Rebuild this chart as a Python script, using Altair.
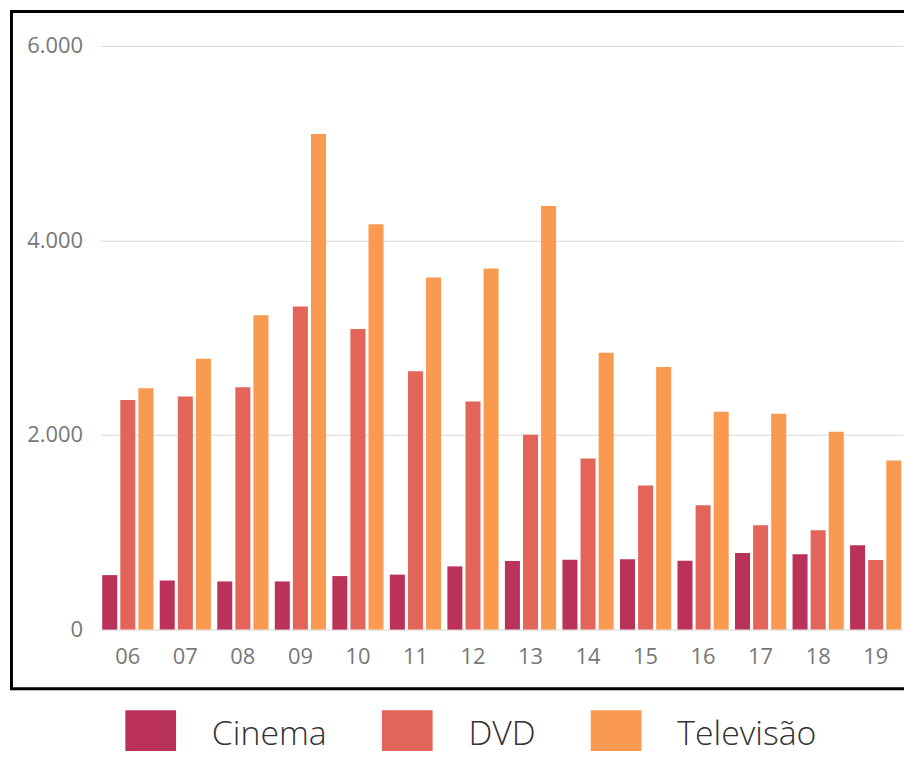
import altair as alt
import pandas as pd

years = ["06", "07", "08", "09", "10", "11", "12", "13", "14", "15", "16", "17", "18", "19"]
series = ["Cinema", "DVD", "Televisão"]
cinema = [560, 505, 495, 495, 550, 565, 650, 705, 718, 722, 708, 787, 774, 868]
dvd = [2360, 2395, 2490, 3320, 3090, 2655, 2345, 2003, 1758, 1482, 1278, 1073, 1022, 715]
tv = [2480, 2783, 3230, 5095, 4167, 3618, 3712, 4354, 2845, 2698, 2238, 2218, 2034, 1738]
colors = ["#BA3159", "#E3655A", "#F99A50"]

rows = []
for name, vals in zip(series, [cinema, dvd, tv]):
    for yr, v in zip(years, vals):
        rows.append({"ano": yr, "serie": name, "valor": v})
df = pd.DataFrame(rows)

W, H = 807, 587

bars = alt.Chart(df).mark_bar().encode(
    x=alt.X("ano:N", sort=years,
            scale=alt.Scale(paddingInner=0.11, paddingOuter=0.03),
            axis=alt.Axis(title=None, labelAngle=0, ticks=False, domain=False,
                          labelFontSize=22, labelColor="#777777", labelPadding=17,
                          labelFont="Open Sans", grid=False)),
    xOffset=alt.XOffset("serie:N", sort=series,
                        scale=alt.Scale(paddingInner=0.17, paddingOuter=0)),
    y=alt.Y("valor:Q", scale=alt.Scale(domain=[0, 6000], nice=False),
            axis=alt.Axis(title=None, values=[0, 2000, 4000, 6000], ticks=False,
                          domain=False, labelFontSize=22, labelColor="#777777",
                          labelFont="Open Sans", labelPadding=18,
                          labelExpr="replace(format(datum.value, ','), ',', '.')",
                          gridColor="#d8d8d8", gridWidth=1)),
    color=alt.Color("serie:N", sort=series,
                    scale=alt.Scale(domain=series, range=colors),
                    legend=alt.Legend(title=None, orient="none", direction="horizontal",
                                      legendX=25, legendY=668,
                                      symbolType="square", symbolSize=2600,
                                      symbolStrokeWidth=0, symbolOpacity=1,
                                      labelFontSize=34, labelFont="Open Sans",
                                      labelFontWeight=300, labelColor="#333333",
                                      labelOffset=36, columnPadding=55, padding=0)),
)

frame = alt.Chart(pd.DataFrame({"k": [0]})).mark_rect(
    filled=False, stroke="black", strokeWidth=3
).encode(
    x=alt.value(-89.5), x2=alt.value(840),
    y=alt.value(-34.5), y2=alt.value(646.5),
)

chart = alt.layer(frame, bars).properties(
    width=W, height=H,
    autosize=alt.AutoSizeParams(type="none"),
    padding={"left": 93, "top": 36, "right": 1, "bottom": 120},
    background="white",
).configure_view(stroke=None)

chart.save("out.html", embed_options={"renderer": "svg", "actions": False})
